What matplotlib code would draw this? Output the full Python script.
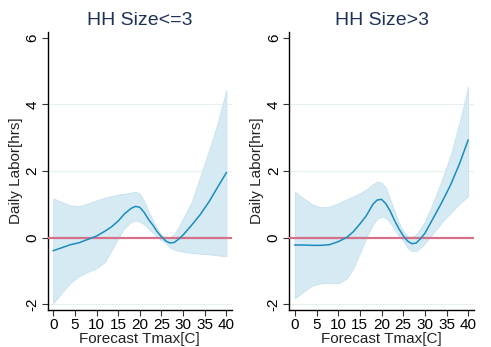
import matplotlib.pyplot as plt

plt.rcParams['font.family'] = ['Liberation Sans', 'DejaVu Sans']

# forecast max temperature (C)
tmax = [0, 2, 4, 6, 8, 10, 12, 13.5, 15, 16.5, 18, 19, 20, 21, 22, 23, 24, 25,
        26, 27, 28, 29, 30, 32, 34, 36, 38, 40]

# HH size <= 3: fitted effect and 95% band
small_fit = [-0.39, -0.30, -0.21, -0.15, -0.05, 0.05, 0.20, 0.33, 0.50, 0.72, 0.88, 0.94, 0.91, 0.76,
             0.55, 0.38, 0.18, 0.03, -0.10, -0.16, -0.14, -0.04, 0.08, 0.38, 0.70, 1.08, 1.52, 1.95]
small_hi = [1.18, 1.07, 0.97, 0.95, 1.02, 1.12, 1.20, 1.25, 1.29, 1.32, 1.35, 1.38, 1.32, 1.10,
            0.80, 0.52, 0.28, 0.08, -0.02, 0.01, 0.12, 0.32, 0.58, 1.08, 1.85, 2.62, 3.45, 4.43]
small_lo = [-1.97, -1.65, -1.35, -1.15, -1.02, -0.92, -0.72, -0.37, -0.02, 0.30, 0.47, 0.51, 0.48, 0.40,
            0.28, 0.15, 0.03, -0.07, -0.17, -0.30, -0.36, -0.40, -0.42, -0.46, -0.48, -0.50, -0.53, -0.56]

# HH size > 3
large_fit = [-0.22, -0.22, -0.23, -0.23, -0.21, -0.12, 0.01, 0.18, 0.41, 0.66, 1.00, 1.13, 1.15, 1.02,
             0.80, 0.52, 0.27, 0.06, -0.10, -0.18, -0.16, -0.03, 0.13, 0.60, 1.08, 1.60, 2.22, 2.93]
large_hi = [1.38, 1.18, 1.00, 0.91, 0.93, 1.03, 1.15, 1.24, 1.33, 1.45, 1.60, 1.68, 1.65, 1.50,
            1.15, 0.80, 0.45, 0.20, 0.05, 0.02, 0.10, 0.28, 0.48, 1.08, 1.75, 2.50, 3.45, 4.53]
large_lo = [-1.82, -1.62, -1.44, -1.37, -1.35, -1.37, -1.22, -0.92, -0.47, 0.00, 0.40, 0.57, 0.63, 0.60,
            0.45, 0.25, 0.05, -0.08, -0.30, -0.40, -0.40, -0.30, -0.17, 0.15, 0.48, 0.75, 1.02, 1.25]

titles = ['HH Size<=3', 'HH Size>3']
x_ticks = [0, 5, 10, 15, 20, 25, 30, 35, 40]
y_ticks = [-2, 0, 2, 4, 6]

fig = plt.figure(figsize=(4.91, 3.47), dpi=100)
boxes = [[0.097, 0.1066, 0.3755, 0.802], [0.589, 0.1066, 0.376, 0.802]]
panels = [(small_fit, small_lo, small_hi), (large_fit, large_lo, large_hi)]

for box, title, (fit, lo, hi) in zip(boxes, titles, panels):
    ax = fig.add_axes(box)
    ax.fill_between(tmax, lo, hi, color='#d6eaf3', linewidth=0.6,
                    edgecolor='#c6e1ed', zorder=2)
    ax.plot(tmax, fit, color='#1b8cc0', linewidth=1.1, zorder=4)
    ax.axhline(0, color='#d5728a', linewidth=1.6, zorder=3)
    for yv in [-2, 2, 4]:
        ax.axhline(yv, color='#e6f0f2', linewidth=0.8, zorder=1)
    ax.set_xlim(-1.3, 41.3)
    ax.set_ylim(-2.17, 6.18)
    ax.set_xticks(x_ticks)
    ax.set_yticks(y_ticks)
    ax.set_yticklabels([str(v) for v in y_ticks], rotation=90, va='center')
    ax.tick_params(labelsize=11, length=4, width=0.8, color='#333333', pad=2)
    ax.spines['top'].set_visible(False)
    ax.spines['right'].set_visible(False)
    ax.spines['left'].set_linewidth(1.0)
    ax.spines['bottom'].set_linewidth(1.0)
    ax.set_xlabel('Forecast Tmax[C]', fontsize=11, labelpad=0, color='#222222')
    ax.set_ylabel('Daily Labor[hrs]', fontsize=11, labelpad=2, color='#222222')
    ax.set_title(title, fontsize=14, color='#1e3259', pad=5)

fig.savefig('out.png', dpi=100)
